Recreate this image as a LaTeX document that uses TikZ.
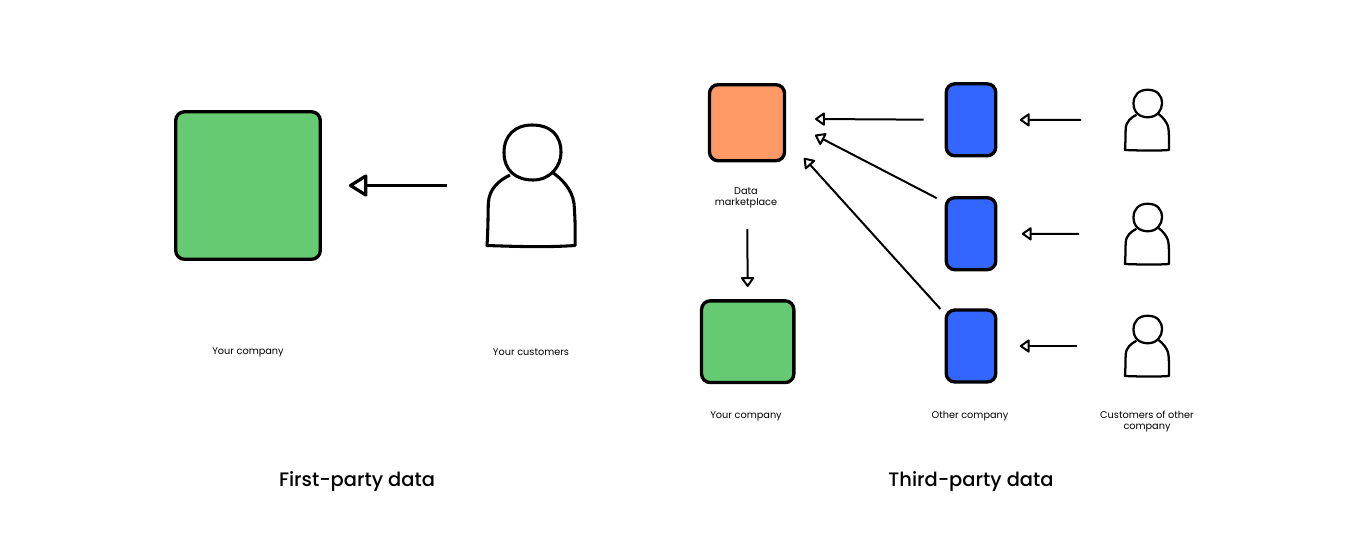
\documentclass[tikz,border=0pt]{standalone}
\usepackage{fontspec}
\setmainfont{Poppins}
\newfontfamily\ttlfont{Poppins Medium}
\usetikzlibrary{positioning,arrows.meta}
\definecolor{compgreen}{HTML}{65CA71}
\definecolor{mktorange}{HTML}{FF9A66}
\definecolor{otherblue}{HTML}{3366FF}
\tikzset{dbox/.style={draw, line width=2.5pt, rounded corners=6.5pt, outer sep=0pt, inner sep=0pt}}
\tikzset{bluebox/.style={dbox, fill=otherblue, minimum width=37.2pt, minimum height=54pt}}
\tikzset{lab/.style={font=\fontsize{7.3}{8.3}\selectfont, align=center, inner sep=0pt}}
\tikzset{ttl/.style={font=\fontsize{14.6}{16}\ttlfont, inner sep=0pt}}
\tikzset{arr/.style={draw, line width=1.5pt, -{Triangle[open, fill=white, round, length=8pt, width=11pt]}}}
\tikzset{arrbig/.style={draw, line width=2.4pt, -{Triangle[open, fill=white, round, length=15pt, width=18pt]}}}
\tikzset{personbox/.style={minimum width=#1*66pt, minimum height=#1*90.75pt, inner sep=0pt, outer sep=0pt}}
\tikzset{pics/person/.style={code={
	\draw[line join=round] (-27,-33) .. controls (-27,-50) and (-16,-60.5) .. (1,-60.5) .. controls (20,-60.5) and (30,-50) .. (30,-33) .. controls (30,-20) and (20,-5.5) .. (2,-5.5) .. controls (-15,-5.5) and (-27,-15) .. (-27,-33) -- cycle;
	\draw[line join=round] (-21,-10.5) .. controls (-32,-5) and (-42,3) .. (-42.7,18) .. controls (-43,30) and (-43,45) .. (-44,60) .. controls (-15,61) and (15,62) .. (44,60) .. controls (44.5,45) and (44,30) .. (43,18) .. controls (41,3) and (30,-7) .. (21,-13.5);
}}}
\newcommand\person[4]{
		\node[personbox=#3] (#1) at (#2) {};
		\pic[scale=#3, line width=#4] at (#1) {person};
	}
\begin{document}
\begin{tikzpicture}[x=0.75pt, y=-0.75pt]
			\useasboundingbox (0,0) rectangle (1370,533);

			% first-party
			\node[dbox, fill=compgreen, minimum width=108.4pt, minimum height=110.6pt] (compA) at (248,185.5) {};
			\person{custA}{531,185.5}{1}{2.3pt}
			\node[lab] (labCompA) at (248,352.5) {Your company};
			\node[lab] (labCustA) at (531,352.5) {Your customers};
			\node[ttl] (ttlFirst) at (357,482) {First-party data};
			\draw[arrbig, shorten <=30pt, shorten >=21.5pt] (custA) -- (compA);

			% third-party
			\node[dbox, fill=mktorange, minimum width=56.3pt, minimum height=57pt] (market) at (747,122.7) {};
			\node[dbox, fill=compgreen, minimum width=69.2pt, minimum height=61.3pt] (compB) at (747.7,341.7) {};
			\node[bluebox] (blueA) at (971,119.8) {};
			\node[bluebox] (blueB) at (971,233.7) {};
			\node[bluebox] (blueC) at (971,346) {};
			\person{custB}{1147,120}{0.5}{1.7pt}
			\person{custC}{1147,234}{0.5}{1.7pt}
			\person{custD}{1147,346}{0.5}{1.7pt}

			\node[lab] (labMarket) at (746,198) {Data\\marketplace};
			\node[lab] (labCompB) at (746,416) {Your company};
			\node[lab] (labOther) at (970,416) {Other company};
			\node[lab] (labCustB) at (1147,421.5) {Customers of other\\company};
			\node[ttl] (ttlThird) at (971,482) {Third-party data};

			\coordinate (tipA) at (815,119);
			\coordinate (tipB) at (815,135);
			\coordinate (tipC) at (804,158);
			\draw[arr, shorten <=17pt] (blueA.west) -- (tipA);
			\draw[arr, shorten <=8pt] (blueB.129) -- (tipB);
			\draw[arr, shorten <=6.5pt] (blueC.129) -- (tipC);
			\draw[arr, shorten <=51.4pt, shorten >=10.4pt] (market.south) -- (compB.north);
			\draw[arr, shorten <=33pt, shorten >=18pt] (custB) -- (blueA);
			\draw[arr, shorten <=34.5pt, shorten >=19.5pt] (custC) -- (blueB);
			\draw[arr, shorten <=36pt, shorten >=18pt] (custD) -- (blueC);
		\end{tikzpicture}
\end{document}
